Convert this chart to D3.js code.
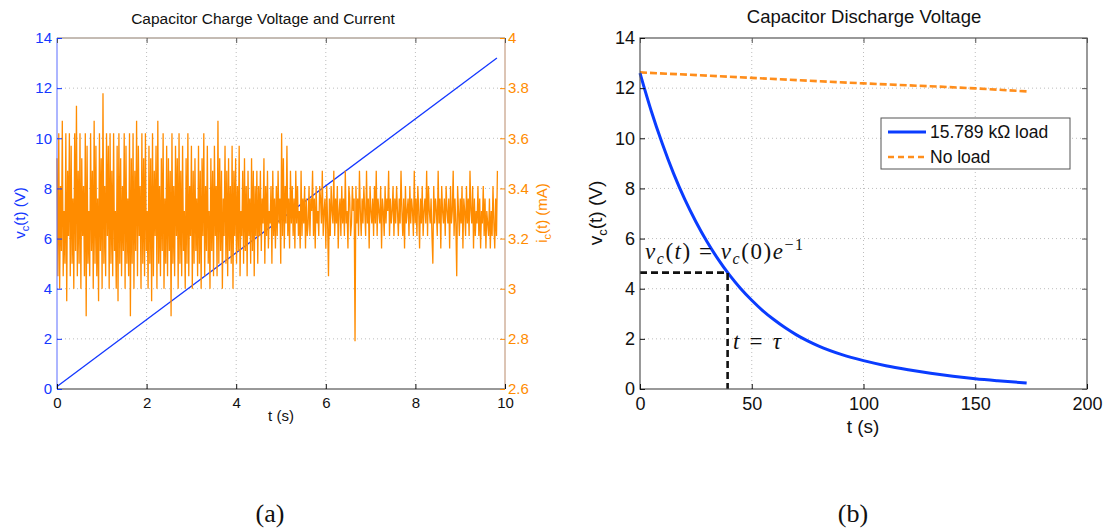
<!DOCTYPE html>
<html><head><meta charset="utf-8">
<script src="https://cdn.jsdelivr.net/npm/d3@7"></script>
<style>
body{margin:0;background:#fff}
svg text{font-family:"Liberation Sans",Arial,Helvetica,sans-serif}
</style>
</head><body>
<svg id="c" width="1109" height="529"></svg>
<script>
// ---------- Data: panel (a) ----------
const chargeTime = [0, 9.82];
const chargeVoltage = [0.1, 13.2];
const sampleInterval = 0.01974; // s between current samples
const chargeCurrent = [
 3.52,3.05,3.62,3.00,3.41,3.15,3.67,3.05,3.31,3.10,3.62,2.95,3.47,3.21,3.62,3.05,3.57,3.10,3.36,3.00,
 3.62,3.15,3.73,3.05,3.47,3.10,3.62,3.00,3.52,3.21,3.41,3.05,3.62,2.89,3.57,3.10,3.31,3.05,3.62,3.15,
 3.47,3.00,3.67,3.10,3.57,3.05,3.36,2.95,3.62,3.15,3.52,3.00,3.78,3.10,3.41,3.05,3.62,3.21,3.57,3.00,
 3.62,3.10,3.47,3.05,3.62,3.15,3.31,3.00,3.57,2.95,3.62,3.10,3.52,3.05,3.41,3.15,3.62,3.00,3.57,3.10,
 3.36,3.05,3.62,2.89,3.52,3.10,3.62,3.00,3.47,3.15,3.67,3.05,3.57,3.21,3.41,3.00,3.62,3.10,3.52,3.05,
 3.62,3.15,3.31,3.00,3.57,3.10,3.52,2.95,3.62,3.05,3.47,3.21,3.57,3.00,3.67,3.10,3.41,3.05,3.52,3.15,
 3.62,3.00,3.36,3.10,3.57,3.05,3.52,3.15,3.47,2.89,3.62,3.10,3.41,3.05,3.57,3.21,3.52,3.00,3.62,3.10,
 3.47,3.05,3.57,3.15,3.31,3.00,3.52,3.10,3.62,3.05,3.41,3.21,3.57,3.00,3.47,3.10,3.52,3.15,3.36,3.05,
 3.57,3.10,3.47,3.00,3.52,3.21,3.62,3.05,3.41,3.15,3.57,3.10,3.31,3.00,3.52,3.15,3.47,3.05,3.57,3.21,
 3.41,3.05,3.67,3.10,3.52,3.15,3.47,3.00,3.36,3.21,3.57,3.10,3.47,3.05,3.52,3.15,3.41,3.10,3.57,3.00,
 3.47,3.21,3.52,3.10,3.41,3.15,3.57,3.05,3.31,3.21,3.47,3.10,3.52,3.15,3.41,3.05,3.47,3.21,3.36,3.10,
 3.52,3.15,3.47,3.05,3.41,3.21,3.47,3.10,
 3.41,3.21,3.47,3.15,3.36,3.26,3.52,3.10,3.41,3.21,3.47,3.16,3.31,3.26,3.41,3.10,3.47,3.21,3.36,3.16,
 3.41,3.21,3.47,3.26,3.36,3.10,3.62,3.21,3.52,3.16,3.41,3.26,3.57,3.21,3.36,3.16,3.47,3.26,3.41,3.21,
 3.36,3.16,3.47,3.26,3.41,3.21,3.31,3.16,3.47,3.21,3.36,3.26,3.41,3.16,3.36,3.21,
 3.26,3.41,3.21,3.36,3.31,3.47,3.21,3.36,3.16,3.41,3.26,3.31,3.21,3.41,3.36,3.26,3.47,3.21,3.31,3.36,
 3.16,3.41,3.26,3.05,3.36,3.21,3.41,3.31,3.26,3.47,3.21,3.36,3.26,3.41,3.16,3.31,3.36,3.21,3.41,3.26,
 3.36,3.21,3.47,3.26,3.31,3.16,3.41,3.36,3.21,3.26,3.41,3.31,3.36,2.79,3.41,3.26,3.36,3.21,3.47,3.31,
 3.21,3.36,3.26,3.41,3.31,3.21,3.47,3.26,3.36,3.16,3.41,3.31,3.26,3.36,3.21,3.41,3.26,3.47,3.21,3.36,
 3.31,3.26,3.41,3.16,3.36,3.31,3.21,3.41,3.26,3.36,3.31,3.47,3.21,3.36,3.26,3.31,3.41,3.21,3.36,3.26,
 3.41,3.31,3.21,3.36,3.26,3.47,3.31,3.21,3.36,3.16,3.41,3.26,3.31,3.36,3.21,3.41,3.26,3.36,3.31,3.21,
 3.47,3.26,3.36,3.21,3.41,3.31,3.16,3.36,3.26,3.41,3.21,3.31,3.36,3.26,3.47,3.21,3.41,3.31,3.26,3.36,
 3.21,3.10,3.41,3.26,3.36,3.31,3.21,3.47,3.26,3.36,3.16,3.41,3.31,3.26,3.36,3.21,3.41,3.31,3.26,3.36,
 3.16,3.41,3.26,3.31,3.47,3.21,3.36,3.26,3.05,3.41,3.31,3.21,3.36,3.26,3.41,3.16,3.36,3.31,3.21,3.41,
 3.26,3.36,3.21,3.47,3.31,3.26,3.41,3.16,3.36,3.21,3.31,3.26,3.41,3.21,3.36,3.16,3.31,3.26,3.41,3.21,
 3.36,3.16,3.31,3.26,3.21,3.36,3.16,3.31,3.21,3.41,3.26,3.16,3.36,3.21,3.47
];
const xTicksA = [0, 2, 4, 6, 8, 10];
const yTicksA = [0, 2, 4, 6, 8, 10, 12, 14];
const yTicksA2 = [2.6, 2.8, 3.0, 3.2, 3.4, 3.6, 3.8, 4.0];

// ---------- Data: panel (b) ----------
const dischargeTime = [0,5,10,15,20,25,30,35,40,45,50,55,60,65,70,75,80,90,100,110,120,130,140,150,160,173];
const dischargeLoad = [12.60,11.10,9.78,8.60,7.57,6.67,5.87,5.17,4.55,4.01,3.54,3.12,2.76,2.44,2.16,1.92,1.71,1.38,1.13,0.93,0.77,0.63,0.51,0.41,0.33,0.24];
const noLoadTime = [0, 50, 100, 150, 173];
const noLoadVoltage = [12.63, 12.41, 12.19, 11.99, 11.87];
const xTicksB = [0, 50, 100, 150, 200];
const yTicksB = [0, 2, 4, 6, 8, 10, 12, 14];
const tauTime = 39.2;
const tauVoltage = 4.64;
const legendLabels = ["15.789 kΩ load", "No load"];

const BLUE = "#1438ff", ORANGE = "#ff8c00";
const svg = d3.select("#c");

function grid(g, x, y, xt, yt) {
  const [x0, x1] = x.range(), [y0, y1] = y.range();
  g.selectAll(".gx").data(xt.slice(1, -1)).join("line")
    .attr("x1", d => x(d)).attr("x2", d => x(d)).attr("y1", y0).attr("y2", y1)
    .attr("stroke", "#bdbdbd").attr("stroke-width", 1).attr("stroke-dasharray", "1,3");
  g.selectAll(".gy").data(yt.slice(1, -1)).join("line")
    .attr("x1", x0).attr("x2", x1).attr("y1", d => y(d)).attr("y2", d => y(d))
    .attr("stroke", "#bdbdbd").attr("stroke-width", 1).attr("stroke-dasharray", "1,3");
}
function clean(sel, color, fs) {
  sel.select(".domain").remove();
  sel.selectAll(".tick line").attr("stroke", color);
  sel.selectAll(".tick text").attr("fill", color).style("font-size", fs + "px")
    .style("font-family", '"Liberation Sans",Arial,sans-serif');
}

// ================= Panel (a) =================
{
  const x = d3.scaleLinear([0, 10], [57, 505]);
  const y = d3.scaleLinear([0, 14], [389, 38]);
  const y2 = d3.scaleLinear([2.6, 4], [389, 38]);
  const g = svg.append("g");
  grid(g, x, y, xTicksA, yTicksA);

  g.append("path").datum(chargeTime.map((t, i) => [t, chargeVoltage[i]]))
    .attr("d", d3.line().x(d => x(d[0])).y(d => y(d[1])))
    .attr("fill", "none").attr("stroke", BLUE).attr("stroke-width", 1.3);
  g.append("path").datum(chargeCurrent)
    .attr("d", d3.line().x((d, i) => x(i * sampleInterval)).y(d => y2(d)))
    .attr("fill", "none").attr("stroke", ORANGE).attr("stroke-width", 1.3)
    .attr("stroke-linejoin", "miter");

  g.append("line").attr("x1", 57).attr("x2", 505).attr("y1", 389).attr("y2", 389).attr("stroke", "#333");
  g.append("line").attr("x1", 57).attr("x2", 505).attr("y1", 38).attr("y2", 38).attr("stroke", "#8a7868");
  g.append("line").attr("x1", 57).attr("x2", 57).attr("y1", 38).attr("y2", 389).attr("stroke", "#5b6cff");
  g.append("line").attr("x1", 505).attr("x2", 505).attr("y1", 38).attr("y2", 389).attr("stroke", "#b98a6a");

  const ax = g.append("g").attr("transform", "translate(0,389)")
    .call(d3.axisBottom(x).tickValues(xTicksA).tickSize(-5).tickPadding(8).tickFormat(d3.format("d")));
  clean(ax, "#111", 15);
  const axt = g.append("g").attr("transform", "translate(0,38)")
    .call(d3.axisTop(x).tickValues(xTicksA).tickSize(-5).tickFormat(""));
  clean(axt, "#555", 15);
  const ay = g.append("g").attr("transform", "translate(57,0)")
    .call(d3.axisLeft(y).tickValues(yTicksA).tickSize(-5).tickPadding(5).tickFormat(d3.format("d")));
  clean(ay, BLUE, 15);
  const ay2 = g.append("g").attr("transform", "translate(505,0)")
    .call(d3.axisRight(y2).tickValues(yTicksA2).tickSize(-5).tickPadding(3).tickFormat(d => String(+d.toFixed(1))));
  clean(ay2, ORANGE, 15);

  g.append("text").attr("x", 263).attr("y", 24).attr("text-anchor", "middle")
    .style("font-size", "15.5px").attr("fill", "#111").text("Capacitor Charge Voltage and Current");
  g.append("text").attr("x", 281).attr("y", 421).attr("text-anchor", "middle")
    .style("font-size", "15px").attr("fill", "#111").text("t (s)");

  const yl = g.append("text").attr("transform", "translate(25,213) rotate(-90)")
    .attr("text-anchor", "middle").style("font-size", "15px").attr("fill", BLUE);
  yl.append("tspan").text("v");
  yl.append("tspan").attr("dy", 4).style("font-size", "11px").text("c");
  yl.append("tspan").attr("dy", -4).text("(t) (V)");

  const yr = g.append("text").attr("transform", "translate(547,213) rotate(-90)")
    .attr("text-anchor", "middle").style("font-size", "15px").attr("fill", ORANGE);
  yr.append("tspan").text("i");
  yr.append("tspan").attr("dy", 4).style("font-size", "11px").text("c");
  yr.append("tspan").attr("dy", -4).text("(t) (mA)");

  svg.append("text").attr("x", 270).attr("y", 522).attr("text-anchor", "middle")
    .style("font-family", '"Liberation Serif","Times New Roman",serif').style("font-size", "26px")
    .attr("fill", "#111").text("(a)");
}

// ================= Panel (b) =================
{
  const x = d3.scaleLinear([0, 200], [640, 1087]);
  const y = d3.scaleLinear([0, 14], [389, 38]);
  const g = svg.append("g");
  grid(g, x, y, xTicksB, yTicksB);

  g.append("path").datum(noLoadTime.map((t, i) => [t, noLoadVoltage[i]]))
    .attr("d", d3.line().x(d => x(d[0])).y(d => y(d[1])).curve(d3.curveMonotoneX))
    .attr("fill", "none").attr("stroke", "#ff8e1c").attr("stroke-width", 2.6)
    .attr("stroke-dasharray", "7,3");
  g.append("path").datum(dischargeTime.map((t, i) => [t, dischargeLoad[i]]))
    .attr("d", d3.line().x(d => x(d[0])).y(d => y(d[1])).curve(d3.curveMonotoneX))
    .attr("fill", "none").attr("stroke", "#0a3cff").attr("stroke-width", 3);

  g.append("path")
    .attr("d", `M${x(0)},${y(tauVoltage)}L${x(tauTime)},${y(tauVoltage)}L${x(tauTime)},${y(0)}`)
    .attr("fill", "none").attr("stroke", "#111").attr("stroke-width", 2.6)
    .attr("stroke-dasharray", "7,4");

  g.append("rect").attr("x", 640).attr("y", 38).attr("width", 447).attr("height", 351)
    .attr("fill", "none").attr("stroke", "#555").attr("stroke-width", 1.2);

  const ax = g.append("g").attr("transform", "translate(0,389)")
    .call(d3.axisBottom(x).tickValues(xTicksB).tickSize(-5).tickPadding(8).tickFormat(d3.format("d")));
  clean(ax, "#111", 18);
  const axt = g.append("g").attr("transform", "translate(0,38)")
    .call(d3.axisTop(x).tickValues(xTicksB).tickSize(-5).tickFormat(""));
  clean(axt, "#555", 18);
  const ay = g.append("g").attr("transform", "translate(640,0)")
    .call(d3.axisLeft(y).tickValues(yTicksB).tickSize(-5).tickPadding(5).tickFormat(d3.format("d")));
  clean(ay, "#111", 18);
  const ayr = g.append("g").attr("transform", "translate(1087,0)")
    .call(d3.axisRight(y).tickValues(yTicksB).tickSize(-5).tickFormat(""));
  clean(ayr, "#555", 18);

  g.append("text").attr("x", 864).attr("y", 23).attr("text-anchor", "middle")
    .style("font-size", "18.5px").attr("fill", "#111").text("Capacitor Discharge Voltage");
  g.append("text").attr("x", 863).attr("y", 433).attr("text-anchor", "middle")
    .style("font-size", "19px").attr("fill", "#111").text("t (s)");
  const yl = g.append("text").attr("transform", "translate(602,213) rotate(-90)")
    .attr("text-anchor", "middle").style("font-size", "19px").attr("fill", "#111");
  yl.append("tspan").text("v");
  yl.append("tspan").attr("dy", 5).style("font-size", "13px").text("c");
  yl.append("tspan").attr("dy", -5).text("(t) (V)");

  const lg = g.append("g");
  lg.append("rect").attr("x", 881).attr("y", 118).attr("width", 189).attr("height", 51)
    .attr("fill", "#fff").attr("stroke", "#555").attr("stroke-width", 1);
  lg.append("line").attr("x1", 888).attr("x2", 926).attr("y1", 132).attr("y2", 132)
    .attr("stroke", "#0a3cff").attr("stroke-width", 3);
  lg.append("line").attr("x1", 888).attr("x2", 926).attr("y1", 157).attr("y2", 157)
    .attr("stroke", "#ff8e1c").attr("stroke-width", 2.6).attr("stroke-dasharray", "6,4");
  lg.append("text").attr("x", 930).attr("y", 138).style("font-size", "17.5px").attr("fill", "#111").text(legendLabels[0]);
  lg.append("text").attr("x", 930).attr("y", 163).style("font-size", "17.5px").attr("fill", "#111").text(legendLabels[1]);

  function mathText(px, py, width, parts) {
    const t = g.append("text").attr("x", px).attr("y", py)
      .attr("textLength", width).attr("lengthAdjust", "spacing")
      .style("font-family", '"Liberation Serif","DejaVu Serif",serif').style("font-size", "23px").attr("fill", "#111");
    let prev = 0;
    parts.forEach(p => {
      const s = p.sub ? 5 : p.sup ? -9 : 0;
      const ts = t.append("tspan").attr("dy", s - prev).text(p.t);
      if (p.i) ts.style("font-style", "italic");
      if (p.sub || p.sup) ts.style("font-size", "16px");
      prev = s;
    });
  }
  mathText(645, 259, 158, [
    {t: "v", i: true}, {t: "c", i: true, sub: true}, {t: "("}, {t: "t", i: true}, {t: ") = "},
    {t: "v", i: true}, {t: "c", i: true, sub: true}, {t: "(0)"}, {t: "e", i: true}, {t: "−1", sup: true}
  ]);
  mathText(733, 349, 48, [{t: "t", i: true}, {t: " = "}, {t: "τ", i: true}]);

  svg.append("text").attr("x", 853).attr("y", 522).attr("text-anchor", "middle")
    .style("font-family", '"Liberation Serif","Times New Roman",serif').style("font-size", "26px")
    .attr("fill", "#111").text("(b)");
}
</script>
</body></html>
